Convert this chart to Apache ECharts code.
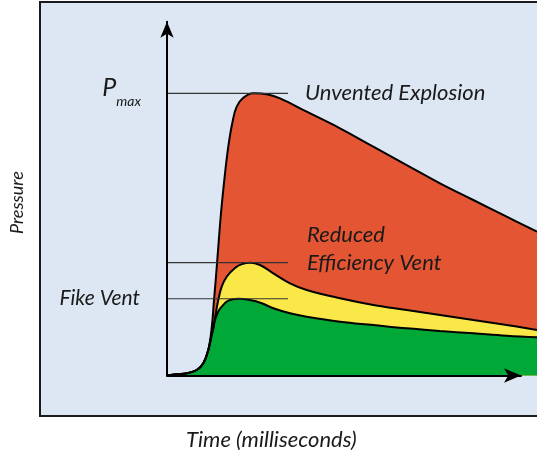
<!DOCTYPE html>
<html>
<head>
<meta charset="utf-8">
<script src="https://cdn.jsdelivr.net/npm/echarts@6/dist/echarts.min.js"></script>
<style>
html, body { margin: 0; background: #fff; }
#main { width: 537px; height: 454px; }
</style>
</head>
<body>
<div id="main"></div>
<script>
// time axis 0..100 (no ticks), pressure axis 0..100 (no ticks)
var unventedTime     = [0, 2.81, 5.70, 8.60, 10.51, 11.95, 12.97, 13.60, 14.10, 14.85, 15.63, 16.58, 17.74, 18.90, 20.17, 22.08, 24.98, 28.86, 32.71, 40.43, 50.07, 59.71, 69.38, 79.02, 88.65, 98.32, 107.09];
var unventedPressure = [0, 0.35, 0.64, 1.59, 3.53, 7.37, 14.11, 21.83, 27.62, 37.25, 46.99, 56.53, 66.17, 73.02, 77.73, 80.30, 81.61, 81.32, 80.16, 76.29, 71.49, 66.17, 60.87, 55.58, 50.75, 45.92, 41.58];

var reducedTime     = [0, 2.81, 5.70, 8.60, 10.51, 11.95, 12.94, 13.40, 14.04, 14.85, 15.83, 17.28, 19.68, 21.71, 24.02, 26.92, 30.77, 35.60, 40.43, 50.07, 59.71, 69.38, 79.02, 88.65, 98.32, 107.09];
var reducedPressure = [0, 0.35, 0.64, 1.59, 3.53, 7.37, 11.71, 13.74, 17.50, 21.83, 25.68, 28.57, 31.09, 32.20, 32.62, 31.95, 29.55, 26.66, 24.73, 22.33, 20.39, 18.94, 17.50, 16.05, 14.60, 13.16];

var fikeTime     = [0, 2.81, 5.70, 8.60, 10.51, 11.95, 12.94, 13.40, 13.89, 14.76, 15.83, 17.74, 20.55, 24.02, 27.41, 30.77, 35.60, 40.43, 50.07, 59.71, 69.38, 79.02, 88.65, 98.32, 107.09];
var fikePressure = [0, 0.35, 0.64, 1.59, 3.53, 7.37, 11.71, 13.74, 16.05, 18.36, 19.90, 21.63, 22.20, 21.83, 20.90, 19.43, 17.99, 17.00, 15.56, 14.60, 13.65, 12.87, 12.20, 11.51, 11.05];

// leader lines run from left of the pressure axis to here
var leaderFrom = -5.2;
var leaderTo = 35;

function zip(t, p) {
	var out = [];
	for (var i = 0; i < t.length; i++) out.push([t[i], p[i]]);
	return out;
}

var tEnd = unventedTime[unventedTime.length - 1];
var pMax = Math.max.apply(null, unventedPressure);
var pReduced = Math.max.apply(null, reducedPressure);
var pFike = Math.max.apply(null, fikePressure);

var font = 'Lato';
var txt = '#1a1a1a';

function areaSeries(name, data, color) {
	return {
		name: name,
		type: 'line',
		data: data,
		smooth: 0.4,
		showSymbol: false,
		clip: false,
		lineStyle: { color: '#000', width: 2 },
		areaStyle: { color: color, opacity: 1 }
	};
}

function leader(y, leftLabel, rightLabel) {
	return {
		type: 'line',
		clip: false,
		silent: true,
		symbol: 'circle',
		symbolSize: 0.1,
		showSymbol: true,
		itemStyle: { color: '#333' },
		lineStyle: { color: '#333', width: 1.2 },
		data: [
			{ value: [leaderFrom, y], label: leftLabel },
			{ value: [leaderTo, y], label: rightLabel }
		]
	};
}

var chart = echarts.init(document.getElementById('main'));

var hidden = {
	type: 'value',
	min: 0,
	axisLine: { show: false },
	axisTick: { show: false },
	axisLabel: { show: false },
	splitLine: { show: false }
};

chart.setOption({
	animation: false,
	graphic: [{
		type: 'rect',
		z: -10,
		shape: { x: 40, y: 2, width: 520, height: 414 },
		style: { fill: '#dce7f3', stroke: '#1a1a1a', lineWidth: 2 }
	}],
	title: {
		text: 'Time (milliseconds)',
		left: 181,
		top: 424,
		textStyle: { fontFamily: font, fontStyle: 'italic', fontWeight: 'normal', fontSize: 22, color: txt }
	},
	grid: [
		// data grid reaches the right edge
		{ left: 167, right: 0, top: 29.7, bottom: 78.5 },
		// visible axes, ending at the arrow tips
		{ left: 167, right: 16, top: 21.7, bottom: 78.5 }
	],
	xAxis: [
		Object.assign({}, hidden, { gridIndex: 0, max: tEnd }),
		{
			type: 'value',
			gridIndex: 1,
			min: 0,
			max: 100,
			z: 5,
			axisLine: { lineStyle: { color: '#000', width: 2 }, symbol: ['none', 'arrow'], symbolSize: [11, 17] },
			axisTick: { show: false },
			axisLabel: { show: false },
			splitLine: { show: false }
		}
	],
	yAxis: [
		Object.assign({}, hidden, {
			gridIndex: 0,
			max: 100,
			name: 'Pressure',
			nameLocation: 'middle',
			nameRotate: 90,
			nameGap: 141,
			nameTextStyle: { fontFamily: font, fontStyle: 'italic', fontSize: 18, color: txt }
		}),
		{
			type: 'value',
			gridIndex: 1,
			min: 0,
			max: 100,
			z: 5,
			axisLine: { lineStyle: { color: '#000', width: 2 }, symbol: ['none', 'arrow'], symbolSize: [10, 16] },
			axisTick: { show: false },
			axisLabel: { show: false },
			splitLine: { show: false }
		}
	],
	series: [
		areaSeries('Unvented Explosion', zip(unventedTime, unventedPressure), '#e35533'),
		areaSeries('Reduced Efficiency Vent', zip(reducedTime, reducedPressure), '#f9e848'),
		areaSeries('Fike Vent', zip(fikeTime, fikePressure), '#00a838'),
		leader(pMax,
			{ show: true, position: 'left', distance: 8,
				formatter: '{p|P}{s|max}',
				rich: {
					p: { fontFamily: font, fontStyle: 'italic', fontSize: 25, color: txt, padding: [0, 0, 10, 0] },
					s: { fontFamily: font, fontStyle: 'italic', fontSize: 14, color: txt, padding: [16, 0, 0, 0] }
				} },
			{ show: true, position: 'right', distance: 17, formatter: 'Unvented Explosion',
				fontFamily: font, fontStyle: 'italic', fontSize: 22, color: txt }),
		leader(pReduced,
			{ show: false },
			{ show: true, position: 'right', distance: 19, offset: [0, -14], lineHeight: 28,
				formatter: 'Reduced\nEfficiency Vent',
				fontFamily: font, fontStyle: 'italic', fontSize: 22, color: txt }),
		leader(pFike,
			{ show: true, position: 'left', distance: 9, formatter: 'Fike Vent',
				fontFamily: font, fontStyle: 'italic', fontSize: 21, color: txt },
			{ show: false })
	]
});
</script>
</body>
</html>
